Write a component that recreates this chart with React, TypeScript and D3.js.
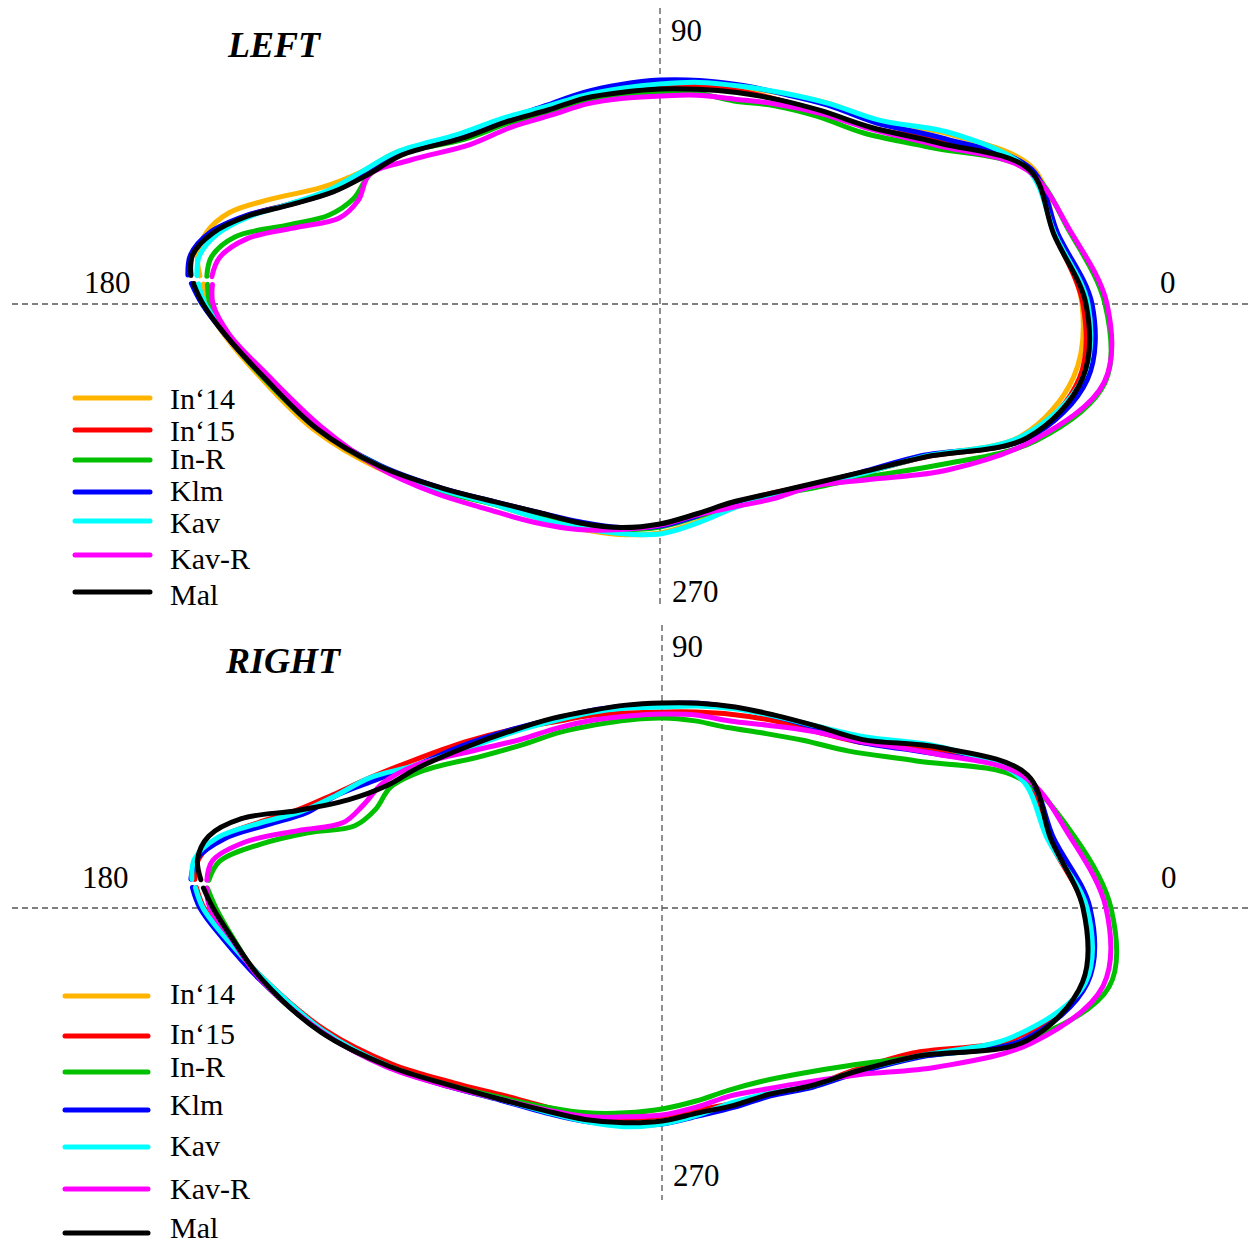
import React, { useEffect, useRef } from "react";
import * as d3 from "d3";

// polar sampling angles (deg), path runs counter-clockwise from just below the gap at ~177°
const ANGLES = [177.5, 180, 184, 190, 200, 210, 220, 230, 240, 250, 260, 270, 280, 290, 300, 310, 320, 330, 340, 350,
	0, 10, 20, 30, 40, 50, 60, 70, 80, 90, 100, 110, 120, 130, 140, 150, 156, 161, 165, 168, 171, 174, 176.5];

const SERIES = ["In‘14", "In‘15", "In-R", "Klm", "Kav", "Kav-R", "Mal"];
const COLORS = ["#ffb400", "#ff0000", "#00c000", "#0000ff", "#00ffff", "#ff00ff", "#000000"];

// LEFT (radius per angle)
const L_IN14 = [457, 455, 437, 408, 368, 327, 289, 261, 247, 239, 234, 229, 221, 216, 222, 238, 264, 305, 385, 420, 422, 403, 397, 338, 285, 262, 243, 231, 225, 222, 222, 224, 228, 240, 262, 304, 326, 358, 404, 440, 459, 465, 461];
const L_IN15 = [466, 456, 435, 405, 365, 325, 288, 259, 243, 234, 228, 221, 214, 212, 219, 236, 263, 306, 390, 426, 423, 401, 393, 325, 274, 250, 236, 227, 221, 219, 219, 222, 228, 242, 263, 302, 323, 348, 385, 423, 454, 470, 470];
const L_INR = [453, 450, 435, 406, 365, 325, 290, 261, 244, 236, 229, 223, 216, 214, 221, 240, 269, 322, 400, 452, 445, 416, 392, 313, 266, 245, 229, 216, 214, 211, 213, 217, 222, 236, 256, 300, 318, 324, 343, 380, 430, 451, 454];
const L_KLM = [469, 458, 436, 405, 364, 323, 286, 258, 241, 232, 227, 222, 215, 213, 220, 236, 262, 303, 392, 434, 432, 404, 395, 330, 282, 260, 243, 233, 227, 224, 223, 225, 229, 241, 260, 299, 320, 346, 384, 424, 456, 472, 473];
const L_KAV = [462, 455, 434, 404, 364, 324, 288, 261, 247, 238, 233, 230, 222, 217, 222, 238, 264, 305, 386, 429, 428, 401, 392, 340, 286, 262, 244, 232, 225, 220, 219, 222, 228, 243, 264, 304, 326, 350, 385, 420, 448, 463, 464];
const L_KAVR = [448, 447, 432, 400, 360, 326, 294, 268, 252, 240, 229, 221, 214, 216, 225, 238, 273, 332, 398, 451, 447, 417, 391, 318, 273, 249, 231, 218, 212, 208, 209, 213, 218, 231, 248, 288, 318, 319, 332, 370, 418, 443, 449];
const L_MAL = [467, 457, 436, 405, 365, 324, 286, 258, 241, 233, 227, 220, 213, 211, 219, 235, 262, 306, 391, 429, 426, 400, 393, 322, 275, 252, 236, 225, 218, 215, 215, 219, 224, 238, 258, 298, 319, 345, 383, 422, 453, 470, 470];

// RIGHT (no In‘14 curve)
const R_IN15 = [466, 458, 436, 405, 358, 312, 272, 245, 230, 221, 214, 208, 205, 208, 215, 232, 252, 290, 378, 431, 422, 393, 386, 318, 258, 232, 217, 206, 199, 196, 198, 205, 215, 233, 258, 292, 320, 348, 378, 412, 448, 466, 468];
const R_INR = [455, 446, 430, 408, 362, 316, 276, 248, 230, 218, 208, 201, 196, 194, 200, 216, 245, 297, 387, 454, 449, 418, 380, 294, 244, 219, 202, 192, 190, 190, 191, 195, 203, 214, 236, 275, 297, 303, 318, 362, 407, 445, 454];
const R_KLM = [470, 462, 440, 409, 362, 317, 278, 251, 236, 227, 220, 216, 211, 212, 217, 234, 256, 298, 385, 432, 428, 398, 387, 310, 258, 236, 222, 213, 208, 204, 205, 210, 218, 233, 255, 285, 314, 345, 368, 402, 443, 468, 472];
const R_KAV = [467, 459, 437, 405, 360, 316, 277, 250, 235, 227, 222, 216, 210, 207, 214, 232, 254, 296, 375, 430, 425, 392, 381, 322, 266, 238, 222, 212, 205, 201, 203, 208, 216, 230, 250, 285, 320, 345, 373, 410, 450, 470, 471];
const R_KAVR = [456, 452, 432, 408, 362, 318, 278, 250, 233, 222, 212, 207, 202, 200, 209, 227, 259, 318, 394, 448, 444, 414, 385, 310, 259, 231, 211, 199, 196, 194, 195, 200, 208, 220, 245, 285, 306, 316, 330, 372, 422, 452, 456];
const R_MAL = [459, 449, 431, 407, 363, 316, 276, 250, 234, 225, 218, 213, 208, 210, 215, 232, 254, 296, 388, 427, 421, 395, 389, 321, 262, 238, 223, 214, 208, 205, 206, 210, 219, 232, 252, 281, 301, 332, 377, 430, 459, 467, 462];

const AXIS_LABELS = ["0", "90", "180", "270"];

const PANELS = [
	{
		title: "LEFT", titleX: 228, titleY: 57,
		cx: 660, cy: 304, vTop: 8, vBottom: 605,
		labels: [[1160, 293], [671, 41], [84, 293], [672, 602]],
		series: [L_IN14, L_IN15, L_INR, L_KLM, L_KAV, L_KAVR, L_MAL],
		legX1: 75, legX2: 150, legTextX: 170,
		legLineY: [398, 430, 460, 492, 521, 555, 592],
		legTextY: [409, 441, 469, 501, 533, 569, 605]
	},
	{
		title: "RIGHT", titleX: 226, titleY: 673,
		cx: 662, cy: 908, vTop: 625, vBottom: 1200,
		labels: [[1161, 888], [672, 657], [82, 888], [673, 1186]],
		series: [null, R_IN15, R_INR, R_KLM, R_KAV, R_KAVR, R_MAL],
		legX1: 65, legX2: 148, legTextX: 170,
		legLineY: [996, 1036, 1072, 1110, 1147, 1189, 1233],
		legTextY: [1004, 1044, 1077, 1115, 1156, 1199, 1238]
	}
];

const FONT = "'Liberation Serif', 'Times New Roman', serif";

export default function App() {
	const ref = useRef<SVGSVGElement>(null);

	useEffect(() => {
		const svg = d3.select(ref.current);
		svg.selectAll("*").remove();

		const r = d3.scaleLinear().domain([0, 500]).range([0, 500]);
		const rad = (a: number) => (a * Math.PI) / 180;

		PANELS.forEach((p) => {
			const g = svg.append("g");

			// dashed axes
			g.append("line")
				.attr("x1", 12).attr("x2", 1248)
				.attr("y1", p.cy).attr("y2", p.cy)
				.attr("stroke", "#555").attr("stroke-width", 1.3)
				.attr("stroke-dasharray", "6,4");
			g.append("line")
				.attr("x1", p.cx).attr("x2", p.cx)
				.attr("y1", p.vTop).attr("y2", p.vBottom)
				.attr("stroke", "#555").attr("stroke-width", 1.3)
				.attr("stroke-dasharray", "6,4");

			AXIS_LABELS.forEach((t, i) => {
				g.append("text")
					.attr("x", p.labels[i][0]).attr("y", p.labels[i][1])
					.attr("font-family", FONT).attr("font-size", 31)
					.attr("fill", "#000")
					.text(t);
			});

			g.append("text")
				.attr("x", p.titleX).attr("y", p.titleY)
				.attr("font-family", FONT).attr("font-size", 36)
				.attr("font-weight", "bold").attr("font-style", "italic")
				.text(p.title);

			const line = d3.line<number>()
				.x((v, i) => p.cx + r(v) * Math.cos(rad(ANGLES[i])))
				.y((v, i) => p.cy - r(v) * Math.sin(rad(ANGLES[i])))
				.curve(d3.curveCatmullRom.alpha(0.5));

			p.series.forEach((vals, k) => {
				if (!vals) return;
				g.append("path")
					.attr("d", line(vals))
					.attr("fill", "none")
					.attr("stroke", COLORS[k])
					.attr("stroke-width", 5)
					.attr("stroke-linejoin", "round")
					.attr("stroke-linecap", "round");
			});

			// legend
			SERIES.forEach((name, k) => {
				g.append("line")
					.attr("x1", p.legX1).attr("x2", p.legX2)
					.attr("y1", p.legLineY[k]).attr("y2", p.legLineY[k])
					.attr("stroke", COLORS[k]).attr("stroke-width", 5)
					.attr("stroke-linecap", "round");
				g.append("text")
					.attr("x", p.legTextX).attr("y", p.legTextY[k])
					.attr("font-family", FONT).attr("font-size", 30)
					.text(name);
			});
		});
	}, []);

	return (
		<svg
			ref={ref}
			width={1248}
			height={1245}
			style={{ position: "absolute", left: 0, top: 0, background: "#fff" }}
		/>
	);
}
